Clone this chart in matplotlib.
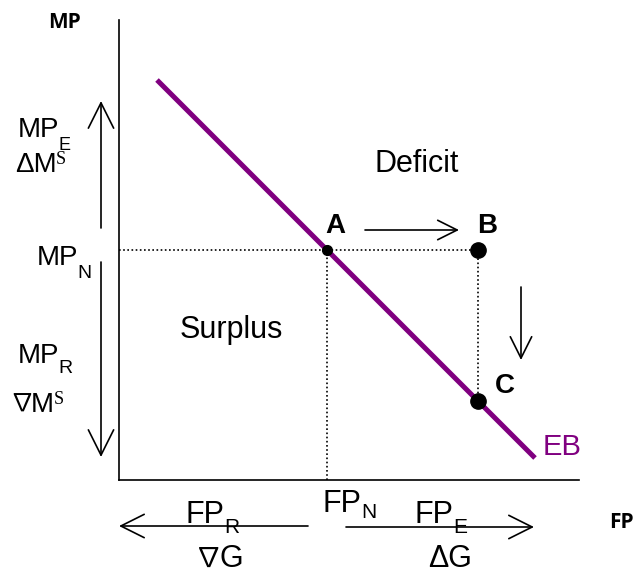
import matplotlib
matplotlib.use("Agg")
import matplotlib.pyplot as plt

plt.rcParams['font.family'] = ['Liberation Sans', 'DejaVu Sans']

purple = '#800080'

# axis lengths (FP across, MP up), origin at the corner
fp_max = 46.0
mp_max = 46.0

# EB line and the points A, B, C
eb_fp = [3.8, 41.6]
eb_mp = [40.0, 2.2]
pt_names = ['A', 'B', 'C']
pt_fp = [20.8, 35.9, 35.9]
pt_mp = [23.0, 23.0, 7.9]
pt_size = [7, 11, 11]

fig = plt.figure(figsize=(6.41, 5.73), dpi=100)
ax = fig.add_axes([0, 0, 1, 1])
ax.set_xlim(-11.9, 52.2)
ax.set_ylim(-9.3, 48.0)
ax.axis('off')

# axes
ax.plot([0, 0], [0, mp_max], color='black', lw=1.2)
ax.plot([0, fp_max], [0, 0], color='black', lw=1.2)

# dotted guides
dot = dict(color='black', lw=1.2, ls=(0, (1, 1.5)))
ax.plot([0, pt_fp[1]], [pt_mp[0], pt_mp[1]], **dot)
ax.plot([pt_fp[0], pt_fp[0]], [0, pt_mp[0]], **dot)
ax.plot([pt_fp[1], pt_fp[2]], [pt_mp[1], pt_mp[2]], **dot)

# EB line
ax.plot(eb_fp, eb_mp, color=purple, lw=3.6, solid_capstyle='butt')
ax.text(42.4, 2.5, 'EB', color=purple, fontsize=21, va='baseline')

for fp, mp, s in zip(pt_fp, pt_mp, pt_size):
    ax.plot(fp, mp, 'o', color='black', ms=s)

ax.text(20.6, 24.7, 'A', fontsize=20, fontweight='bold', va='baseline')
ax.text(35.8, 24.7, 'B', fontsize=20, fontweight='bold', va='baseline')
ax.text(37.6, 8.7, 'C', fontsize=20, fontweight='bold', va='baseline')


def arrow(x0, y0, x1, y1, hl=1.4, hw=0.7, ms=10):
    ax.annotate('', xy=(x1, y1), xytext=(x0, y0),
                arrowprops=dict(arrowstyle=f'->,head_length={hl},head_width={hw}',
                                lw=1.2, color='black', mutation_scale=ms,
                                shrinkA=0, shrinkB=0))


arrow(24.6, 25.0, 34.0, 25.0)
arrow(40.2, 19.3, 40.2, 12.0, ms=11)
arrow(-1.8, 25.2, -1.8, 37.9, ms=13)
arrow(-1.8, 21.8, -1.8, 2.3, ms=13)
arrow(18.9, -4.6, 0.0, -4.6, ms=12)
arrow(22.7, -4.7, 41.5, -4.7, ms=12)


def label(x, y, main, sub=None, sup=None, size=20, small=14, drop=8, nabla=False):
    if nabla:
        # the nabla sign comes from a CJK font, pull the rest in close to it
        n = ax.text(x, y, '\u2207', fontsize=size * 0.9, va='baseline',
                    family=['Noto Sans CJK JP', 'DejaVu Sans'])
        t = ax.annotate(main, xy=(1, y), xycoords=(n, 'data'), xytext=(-2.0, 0),
                        textcoords='offset points', fontsize=size, va='baseline')
    else:
        t = ax.text(x, y, main, fontsize=size, va='baseline')
    if sub:
        ax.annotate(sub, xy=(1, y), xycoords=(t, 'data'), xytext=(-0.5, -drop),
                    textcoords='offset points', fontsize=small, va='baseline')
    if sup:
        ax.annotate(sup, xy=(1, y), xycoords=(t, 'data'), xytext=(-0.5, 5.5),
                    textcoords='offset points', fontsize=small, va='baseline',
                    family='Liberation Serif')
    return t


# MP side
label(-10.1, 34.3, 'MP', sub='E', size=20, small=13, drop=9)
label(-10.4, 30.8, '\u0394M', sup='S', size=20, small=13)
label(-8.2, 21.5, 'MP', sub='N', size=20, small=14, drop=9)
label(-10.1, 11.7, 'MP', sub='R', size=20, small=14, drop=7.5)
label(-11.0, 6.8, 'M', sup='S', size=20, small=13, nabla=True)

# FP side
label(6.7, -4.3, 'FP', sub='R', size=22, small=15, drop=7.5)
label(20.4, -3.2, 'FP', sub='N', size=22, small=15, drop=4.5)
label(29.6, -4.3, 'FP', sub='E', size=22, small=15, drop=7.5)
label(7.6, -8.7, 'G', size=22, nabla=True)
label(30.9, -8.7, '\u0394G', size=22)

ax.text(25.6, 30.8, 'Deficit', fontsize=22, va='baseline')
ax.text(6.1, 14.2, 'Surplus', fontsize=22, va='baseline')

ax.text(-7.1, 45.2, 'MP', fontsize=15, fontweight='bold', family='Open Sans', va='baseline')
ax.text(49.0, -4.8, 'FP', fontsize=15, fontweight='bold', family='Open Sans', va='baseline')

fig.savefig('out.png', dpi=100)
